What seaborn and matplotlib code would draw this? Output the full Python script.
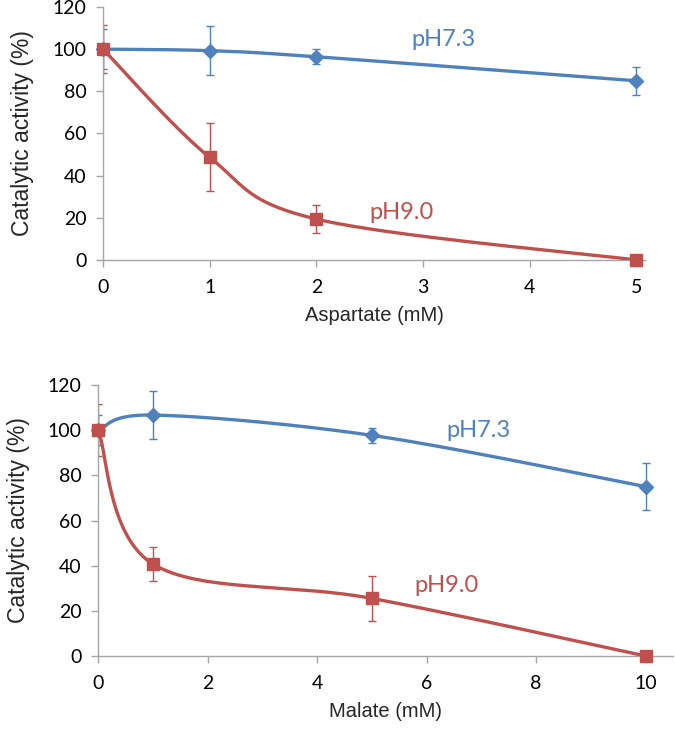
import numpy as np
import pandas as pd
import matplotlib
matplotlib.use("Agg")
import matplotlib.pyplot as plt
import seaborn as sns

# ---------------- data ----------------
asp_x = [0, 1, 2, 5]
asp_ph73 = [100, 99.3, 96.4, 85.0]
asp_ph73_err = [9.5, 11.5, 3.5, 6.7]
asp_ph90 = [100, 48.7, 19.4, 0.0]
asp_ph90_err = [11.5, 16.2, 6.6, 0.0]

mal_x = [0, 1, 5, 10]
mal_ph73 = [100, 106.7, 97.7, 75.0]
mal_ph73_err = [6.5, 10.8, 3.4, 10.4]
mal_ph90 = [100, 40.7, 25.5, 0.0]
mal_ph90_err = [11.5, 7.5, 10.0, 0.0]

series_labels = ["pH7.3", "pH9.0"]
y_ticks = [0, 20, 40, 60, 80, 100, 120]
asp_xticks = [0, 1, 2, 3, 4, 5]
mal_xticks = [0, 2, 4, 6, 8, 10]

BLUE = "#4F81BD"
RED = "#C0504D"
GRAY = "#A6A6A6"


def smooth(xs, ys, n=60):
    """Excel-like smoothed line: cardinal (Catmull-Rom) Bezier through points."""
    P = np.column_stack([xs, ys]).astype(float)
    m = len(P)
    out = []
    t = np.linspace(0, 1, n)
    for i in range(m - 1):
        p0 = P[i - 1] if i > 0 else P[i]
        p1 = P[i]
        p2 = P[i + 1]
        p3 = P[i + 2] if i + 2 < m else P[i + 1]
        c1 = p1 + (p2 - p0) / 6.0
        c2 = p2 - (p3 - p1) / 6.0
        seg = ((1 - t) ** 3)[:, None] * p1 + (3 * (1 - t) ** 2 * t)[:, None] * c1 \
            + (3 * (1 - t) * t ** 2)[:, None] * c2 + (t ** 3)[:, None] * p2
        out.append(seg if i == 0 else seg[1:])
    S = np.vstack(out)
    return S[:, 0], S[:, 1]


sns.set_style("white")
plt.rcParams["font.family"] = ["Liberation Sans", "DejaVu Sans"]

fig = plt.figure(figsize=(6.75, 7.31), dpi=100)
ax1 = fig.add_axes([103 / 675, 1 - 260 / 731, (645 - 103) / 675, (260 - 7) / 731])
ax2 = fig.add_axes([98.3 / 675, 1 - 656 / 731, (673 - 98.3) / 675, (656 - 385) / 731])


def draw(ax, xs, y73, e73, y90, e90, xlim, xticks, xlabel, lab73, lab90):
    for ys, es, col, mk, ms in [(y73, e73, BLUE, "D", 7), (y90, e90, RED, "s", 9)]:
        sx, sy = smooth(xs, ys)
        df = pd.DataFrame({"x": sx, "y": sy})
        sns.lineplot(data=df, x="x", y="y", ax=ax, color=col, lw=2.4, sort=False,
                     estimator=None, zorder=3)
        ax.errorbar(xs, ys, yerr=es, fmt="none", ecolor=col, elinewidth=1.0,
                    capsize=3, capthick=1.0, zorder=2)
        ax.plot(xs, ys, ls="none", marker=mk, ms=ms, color=col, mec=col,
                zorder=4, clip_on=False)
    ax.set_xlim(*xlim)
    ax.set_ylim(0, 120)
    ax.set_xticks(xticks)
    ax.set_yticks(y_ticks)
    ax.set_xticklabels([str(v) for v in xticks], family=["Lato", "DejaVu Sans"], fontsize=14)
    ax.set_yticklabels([str(v) for v in y_ticks], family=["Lato", "DejaVu Sans"], fontsize=14)
    ax.set_xlabel(xlabel, fontsize=14.5, labelpad=7)
    ax.set_ylabel("Catalytic activity (%)", fontsize=16.5, labelpad=13)
    for s in ["top", "right"]:
        ax.spines[s].set_visible(False)
    for s in ["left", "bottom"]:
        ax.spines[s].set_color(GRAY)
        ax.spines[s].set_linewidth(1.0)
    ax.tick_params(axis="both", direction="out", length=5, width=1, color=GRAY,
                   left=True, bottom=True, labelcolor="black")
    ax.tick_params(axis="x", pad=9)
    ax.tick_params(axis="y", pad=7)
    ax.text(lab73[0], lab73[1], series_labels[0], color=BLUE, fontsize=17,
            family=["Lato", "DejaVu Sans"], ha="center", va="center")
    ax.text(lab90[0], lab90[1], series_labels[1], color=RED, fontsize=17,
            family=["Lato", "DejaVu Sans"], ha="center", va="center")


draw(ax1, asp_x, asp_ph73, asp_ph73_err, asp_ph90, asp_ph90_err,
     (0, 5.08), asp_xticks, "Aspartate (mM)", (3.19, 104.5), (2.80, 22.3))
draw(ax2, mal_x, mal_ph73, mal_ph73_err, mal_ph90, mal_ph90_err,
     (0, 10.5), mal_xticks, "Malate (mM)", (6.94, 100), (6.37, 31.4))

fig.savefig("out.png", dpi=100)
